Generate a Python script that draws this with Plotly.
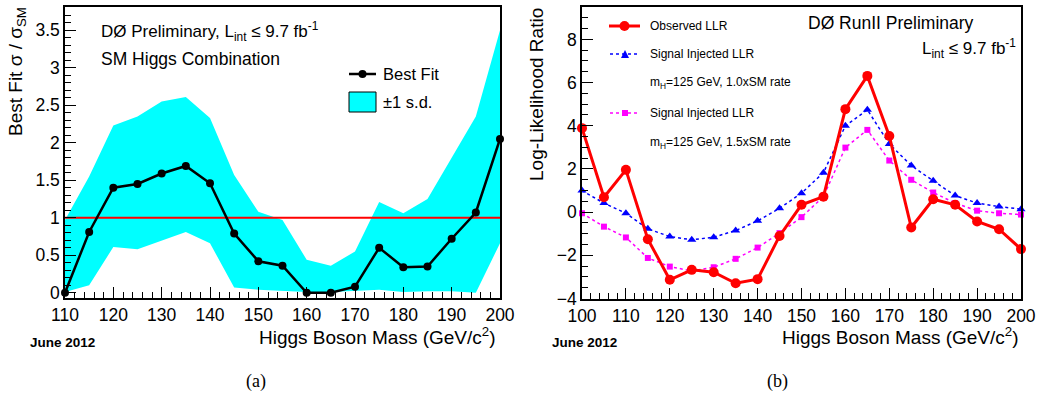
import plotly.graph_objects as go

# ---------------- data: panel (a) ----------------
mass_a = [110, 115, 120, 125, 130, 135, 140, 145, 150, 155, 160, 165, 170, 175, 180, 185, 190, 195, 200]
best_fit = [0.0, 0.81, 1.40, 1.45, 1.59, 1.69, 1.46, 0.79, 0.42, 0.36, 0.0, 0.0, 0.08, 0.60, 0.34, 0.35, 0.72, 1.07, 2.05]
band_hi = [0.97, 1.55, 2.23, 2.35, 2.55, 2.61, 2.33, 1.57, 1.08, 0.97, 0.44, 0.36, 0.55, 1.21, 1.06, 1.25, 1.80, 2.35, 3.50]
band_lo = [0.01, 0.10, 0.61, 0.58, 0.69, 0.81, 0.66, 0.07, 0.04, 0.02, 0.01, 0.01, 0.02, 0.04, 0.01, 0.02, 0.02, 0.0, 0.66]
sm_ratio = 1.0

# ---------------- data: panel (b) ----------------
mass_b = [100, 105, 110, 115, 120, 125, 130, 135, 140, 145, 150, 155, 160, 165, 170, 175, 180, 185, 190, 195, 200]
llr_obs = [3.89, 0.69, 1.96, -1.25, -3.13, -2.67, -2.78, -3.29, -3.10, -1.10, 0.34, 0.72, 4.77, 6.31, 3.53, -0.71, 0.60, 0.34, -0.43, -0.79, -1.71]
llr_inj10 = [1.0, 0.42, -0.05, -0.77, -1.13, -1.28, -1.16, -0.85, -0.40, 0.18, 0.88, 1.83, 4.0, 4.74, 3.16, 2.16, 1.45, 0.77, 0.42, 0.26, 0.14]
llr_inj15 = [-0.05, -0.67, -1.17, -2.12, -2.52, -2.72, -2.55, -2.16, -1.64, -0.97, -0.23, 0.72, 2.99, 3.81, 2.39, 1.50, 0.91, 0.42, 0.07, -0.05, -0.11]

W, H = 1039, 396
def px(x):
    return x / W
def py(y):
    return 1 - y / H

FONT = "Liberation Sans, Arial, sans-serif"
SERIF = "Liberation Serif, Times New Roman, serif"

fig = go.Figure()

# panel (a)
fig.add_trace(go.Scatter(x=mass_a + mass_a[::-1], y=band_hi + band_lo[::-1], fill="toself",
                         fillcolor="#00FFFF", line=dict(width=0), mode="lines",
                         xaxis="x", yaxis="y", hoverinfo="skip", showlegend=False))
fig.add_trace(go.Scatter(x=[mass_a[0], mass_a[-1]], y=[sm_ratio, sm_ratio], mode="lines",
                         line=dict(color="#FF0000", width=2), xaxis="x", yaxis="y", showlegend=False))
fig.add_trace(go.Scatter(x=mass_a, y=best_fit, mode="lines+markers",
                         line=dict(color="black", width=2.5),
                         marker=dict(color="black", size=8, symbol="circle"),
                         xaxis="x", yaxis="y", showlegend=False, cliponaxis=False))

# panel (b)
fig.add_trace(go.Scatter(x=mass_b, y=llr_inj10, mode="lines+markers",
                         line=dict(color="#0000FF", width=1.5, dash="3px,3px"),
                         marker=dict(color="#0000FF", size=8, symbol="triangle-up"),
                         xaxis="x2", yaxis="y2", showlegend=False, cliponaxis=False))
fig.add_trace(go.Scatter(x=mass_b, y=llr_inj15, mode="lines+markers",
                         line=dict(color="#FF00FF", width=1.5, dash="3px,3px"),
                         marker=dict(color="#FF00FF", size=6, symbol="square"),
                         xaxis="x2", yaxis="y2", showlegend=False, cliponaxis=False))
fig.add_trace(go.Scatter(x=mass_b, y=llr_obs, mode="lines+markers",
                         line=dict(color="#FF0000", width=3),
                         marker=dict(color="#FF0000", size=10, symbol="circle"),
                         xaxis="x2", yaxis="y2", showlegend=False, cliponaxis=False))

axis_common = dict(showgrid=False, zeroline=False, showline=True, linecolor="black", linewidth=1.5,
                   mirror=True, ticks="inside", ticklen=11, tickwidth=1, tickcolor="black",
                   automargin=False,
                   tickfont=dict(family=FONT, size=17.5, color="black"))

fig.update_layout(
    width=W, height=H, margin=dict(l=0, r=0, t=0, b=0, autoexpand=False),
    paper_bgcolor="white", plot_bgcolor="white", showlegend=False,
    xaxis=dict(domain=[px(65), px(500)], range=[110, 200], anchor="y", tick0=110, dtick=10,
               minor=dict(ticks="inside", ticklen=6, dtick=2, tickcolor="black"), **axis_common),
    yaxis=dict(domain=[py(298), py(7)], range=[-0.07, 3.81], anchor="x", tick0=0, dtick=0.5,
               minor=dict(ticks="inside", ticklen=6, dtick=0.1, tickcolor="black"), **axis_common),
    xaxis2=dict(domain=[px(582), px(1021)], range=[100, 200], anchor="y2", tick0=100, dtick=10,
                minor=dict(ticks="inside", ticklen=6, dtick=2, tickcolor="black"), **axis_common),
    yaxis2=dict(domain=[py(299), py(7)], range=[-4.02, 9.5], anchor="x2", tick0=0, dtick=2,
                minor=dict(ticks="inside", ticklen=6, dtick=0.5, tickcolor="black"), **axis_common),
)

ann = []
def text(x, y, s, size=16, xanchor="left", yanchor="middle", angle=0, family=FONT, bold=False):
    if bold:
        s = "<b>" + s + "</b>"
    ann.append(dict(x=px(x), y=py(y), xref="paper", yref="paper", text=s, showarrow=False,
                    xanchor=xanchor, yanchor=yanchor, textangle=angle,
                    font=dict(family=family, size=size, color="black")))

# panel (a) text
text(17, 72, "Best Fit σ / σ<sub>SM</sub>", size=19, xanchor="center", yanchor="middle", angle=-90)
text(498, 336, "Higgs Boson Mass (GeV/c<sup>2</sup>)", size=19, xanchor="right")
text(28, 342, "June 2012", size=13.5, bold=True)
text(256, 381, "(a)", size=18, xanchor="center", family=SERIF)
text(99, 32, "DØ Preliminary, L<sub>int</sub> ≤ 9.7 fb<sup>-1</sup>", size=17)
text(99, 59, "SM Higgs Combination", size=17.5)
text(381, 74, "Best Fit", size=16.5)
text(381, 102, "±1 s.d.", size=16.5)

# panel (b) text
text(537, 95, "Log-Likelihood Ratio", size=19, xanchor="center", yanchor="middle", angle=-90)
text(1021, 336, "Higgs Boson Mass (GeV/c<sup>2</sup>)", size=19, xanchor="right")
text(550, 342, "June 2012", size=13.5, bold=True)
text(777, 381, "(b)", size=18, xanchor="center", family=SERIF)
text(806, 23, "DØ RunII Preliminary", size=17.5)
text(1018, 48, "L<sub>int</sub> ≤ 9.7 fb<sup>-1</sup>", size=17, xanchor="right")
text(648, 26, "Observed LLR", size=12)
text(648, 54, "Signal Injected LLR", size=12)
text(648, 83, "m<sub>H</sub>=125 GeV, 1.0xSM rate", size=12)
text(648, 113, "Signal Injected LLR", size=12)
text(648, 143, "m<sub>H</sub>=125 GeV, 1.5xSM rate", size=12)

fig.update_layout(annotations=ann)

shapes = []
def pline(x0, y0, x1, y1, color, width, dash="solid"):
    shapes.append(dict(type="line", xref="paper", yref="paper", x0=px(x0), y0=py(y0), x1=px(x1), y1=py(y1),
                       line=dict(color=color, width=width, dash=dash)))

# legend (a)
pline(349, 74, 376, 74, "black", 2.5)
shapes.append(dict(type="circle", xref="paper", yref="paper", x0=px(358.5), x1=px(366.5), y0=py(78), y1=py(70),
                   fillcolor="black", line=dict(color="black", width=0)))
shapes.append(dict(type="rect", xref="paper", yref="paper", x0=px(349), x1=px(376), y0=py(112), y1=py(92),
                   fillcolor="#00FFFF", line=dict(color="black", width=1)))

# legend (b)
pline(609, 26, 640, 26, "#FF0000", 3)
shapes.append(dict(type="circle", xref="paper", yref="paper", x0=px(619.5), x1=px(629.5), y0=py(31), y1=py(21),
                   fillcolor="#FF0000", line=dict(color="#FF0000", width=0)))
pline(610, 54, 639, 54, "#0000FF", 1.5, "dot")
tri = "M {},{} L {},{} L {},{} Z".format(px(625), py(50), px(621), py(58), px(629), py(58))
shapes.append(dict(type="path", xref="paper", yref="paper", path=tri, fillcolor="#0000FF",
                   line=dict(color="#0000FF", width=0)))
pline(610, 113, 639, 113, "#FF00FF", 1.5, "dot")
shapes.append(dict(type="rect", xref="paper", yref="paper", x0=px(622), x1=px(628), y0=py(116), y1=py(110),
                   fillcolor="#FF00FF", line=dict(color="#FF00FF", width=0)))

fig.update_layout(shapes=shapes)

fig.write_html("out.html", config={"displayModeBar": False},
               post_script="document.body.style.margin='0px';")
